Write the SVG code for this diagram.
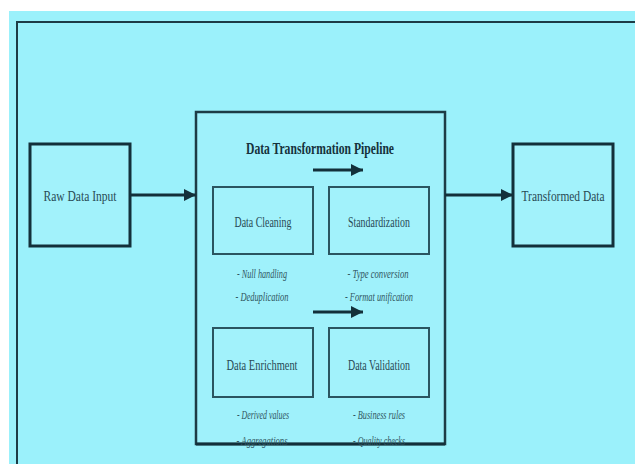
<svg xmlns="http://www.w3.org/2000/svg" width="635" height="464" viewBox="0 0 635 464">
  <defs>
    <marker id="arrow" viewBox="0 0 10 10" refX="10" refY="5" markerWidth="4" markerHeight="4" orient="auto" markerUnits="strokeWidth">
      <path d="M0,0 L10,5 L0,10 z" fill="#13303a"/>
    </marker>
    <style>
      .frame { fill: none; stroke: #1d3c46; stroke-width: 2; }
      .outer { fill: #a2f2fb; stroke: #13303a; stroke-width: 3; }
      .inner { fill: #a2f2fb; stroke: #2a5560; stroke-width: 2; }
      .pipe  { fill: #9ff1fb; stroke: #1d3c46; stroke-width: 2.5; }
      .link  { fill: none; stroke: #13303a; stroke-width: 3; marker-end: url(#arrow); }
      .label { font-family: "Liberation Serif", "DejaVu Serif", serif; font-size: 15px; fill: #284a55; text-anchor: middle; }
      .title { font-family: "Liberation Serif", "DejaVu Serif", serif; font-size: 17px; font-weight: bold; fill: #15323c; text-anchor: middle; }
      .note  { font-family: "Liberation Serif", "DejaVu Serif", serif; font-size: 12px; font-style: italic; fill: #2f5560; text-anchor: middle; }
    </style>
  </defs>

  <!-- page background -->
  <rect x="0" y="0" width="635" height="464" fill="#ffffff"/>
  <rect x="9" y="11" width="626" height="453" fill="#9bf1fb"/>
  <path class="frame" d="M17,464 V22 H635"/>

  <!-- input node -->
  <g id="raw-data-input">
    <rect class="outer" x="30" y="144" width="100" height="102"/>
    <text class="label" x="80" y="201" textLength="73" lengthAdjust="spacingAndGlyphs">Raw Data Input</text>
  </g>

  <!-- pipeline container -->
  <g id="pipeline">
    <rect class="pipe" x="196" y="112" width="249" height="332"/>
    <line x1="196" y1="444" x2="445" y2="444" stroke="#13303a" stroke-width="3"/>
    <text class="title" x="320" y="154" textLength="148" lengthAdjust="spacingAndGlyphs">Data Transformation Pipeline</text>
  </g>

  <g id="data-cleaning">
    <rect class="inner" x="213" y="187" width="100" height="67"/>
    <text class="label" x="263" y="227" textLength="57" lengthAdjust="spacingAndGlyphs">Data Cleaning</text>
    <text class="note" x="262" y="278" textLength="50" lengthAdjust="spacingAndGlyphs">- Null handling</text>
    <text class="note" x="262" y="301" textLength="53" lengthAdjust="spacingAndGlyphs">- Deduplication</text>
  </g>

  <g id="standardization">
    <rect class="inner" x="329" y="187" width="100" height="67"/>
    <text class="label" x="379" y="227" textLength="62" lengthAdjust="spacingAndGlyphs">Standardization</text>
    <text class="note" x="378" y="278" textLength="61" lengthAdjust="spacingAndGlyphs">- Type conversion</text>
    <text class="note" x="379" y="301" textLength="68" lengthAdjust="spacingAndGlyphs">- Format unification</text>
  </g>

  <g id="data-enrichment">
    <rect class="inner" x="213" y="328" width="100" height="69"/>
    <text class="label" x="262" y="370" textLength="71" lengthAdjust="spacingAndGlyphs">Data Enrichment</text>
    <text class="note" x="263" y="419" textLength="52" lengthAdjust="spacingAndGlyphs">- Derived values</text>
    <text class="note" x="262" y="445" textLength="51" lengthAdjust="spacingAndGlyphs">- Aggregations</text>
  </g>

  <g id="data-validation">
    <rect class="inner" x="329" y="328" width="100" height="69"/>
    <text class="label" x="379" y="370" textLength="62" lengthAdjust="spacingAndGlyphs">Data Validation</text>
    <text class="note" x="379" y="419" textLength="52" lengthAdjust="spacingAndGlyphs">- Business rules</text>
    <text class="note" x="379" y="445" textLength="52" lengthAdjust="spacingAndGlyphs">- Quality checks</text>
  </g>

  <!-- output node -->
  <g id="transformed-data">
    <rect class="outer" x="513" y="144" width="100" height="102"/>
    <text class="label" x="563" y="201" textLength="83" lengthAdjust="spacingAndGlyphs">Transformed Data</text>
  </g>

  <!-- connectors -->
  <g id="connectors">
    <line class="link" x1="130" y1="195" x2="196" y2="195"/>
    <line class="link" x1="445" y1="195" x2="513" y2="195"/>
    <line class="link" x1="313" y1="170" x2="363" y2="170"/>
    <line class="link" x1="313" y1="312" x2="363" y2="312"/>
  </g>
</svg>
